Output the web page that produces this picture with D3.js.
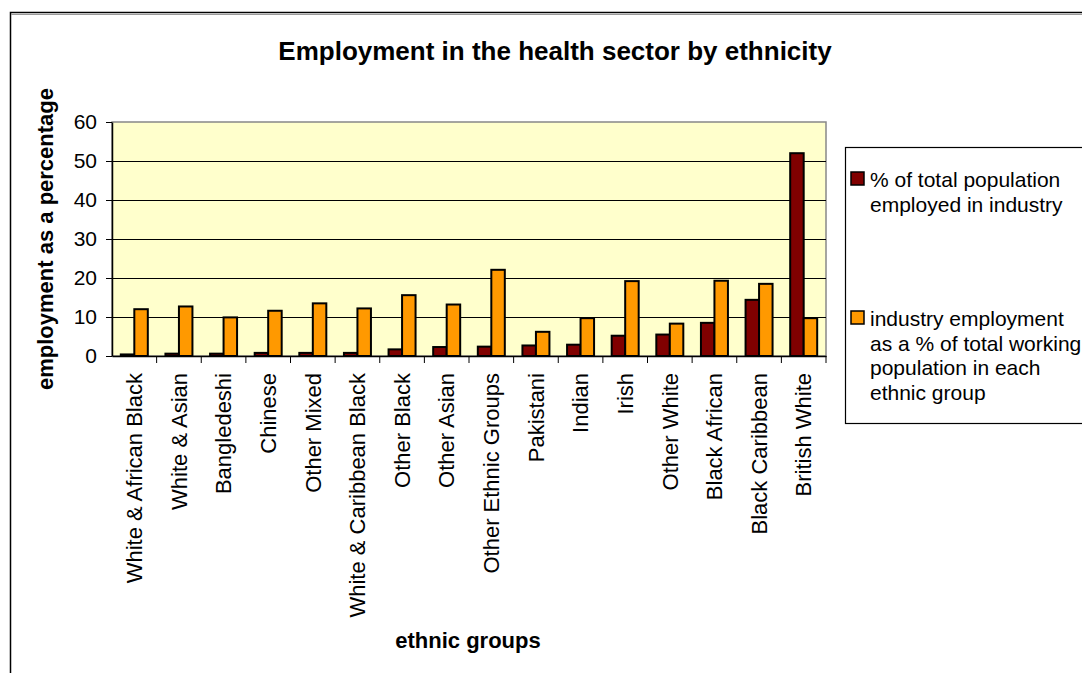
<!DOCTYPE html>
<html>
<head>
<meta charset="utf-8">
<script src="https://cdn.jsdelivr.net/npm/d3@7"></script>
<style>
  body { margin: 0; background: #fff; }
  text { font-family: "Liberation Sans", Arial, sans-serif; fill: #000; }
</style>
</head>
<body>
<svg id="chart" width="1082" height="673"></svg>
<script>
// data
var groups = ["White & African Black", "White & Asian", "Bangledeshi", "Chinese", "Other Mixed",
    "White & Caribbean Black", "Other Black", "Other Asian", "Other Ethnic Groups", "Pakistani",
    "Indian", "Irish", "Other White", "Black African", "Black Caribbean", "British White"];
var popShare = [0.4, 0.6, 0.6, 0.8, 0.8, 0.8, 1.7, 2.3, 2.4, 2.7, 2.9, 5.2, 5.5, 8.5, 14.4, 52.0];
var industryShare = [12.0, 12.7, 9.9, 11.6, 13.5, 12.2, 15.6, 13.2, 22.1, 6.2, 9.7, 19.2, 8.3, 19.3, 18.5, 9.7];
var yTicks = [0, 10, 20, 30, 40, 50, 60];
var seriesNames = [
    ["% of total population", "employed in industry"],
    ["industry employment", "as a % of total working", "population in each", "ethnic group"]
];
var colors = ["#800000", "#FF9900"];

var svg = d3.select("#chart");
var plotL = 112, plotT = 122, plotR = 826, plotB = 356;
var fontFam = "Liberation Sans, Arial, sans-serif";

// outer chart frame (runs off the right and bottom edges)
svg.append("rect")
    .attr("x", 10.5).attr("y", 12.5)
    .attr("width", 1100).attr("height", 700)
    .attr("fill", "none").attr("stroke", "#000").attr("stroke-width", 1.5)
svg.append("line")
    .attr("x1", 11).attr("x2", 1082).attr("y1", 14.5).attr("y2", 14.5)
    .attr("stroke", "#999").attr("stroke-width", 1)

var x = d3.scaleBand().domain(groups).range([plotL, plotR]).padding(0);
var inner = d3.scaleBand().domain([0, 1]).range([0, 27]);
var y = d3.scaleLinear().domain([0, 60]).range([plotB, plotT]);

// plot area
svg.append("rect")
    .attr("x", plotL).attr("y", plotT)
    .attr("width", plotR - plotL).attr("height", plotB - plotT)
    .attr("fill", "#FFFFCC").attr("stroke", "#888").attr("stroke-width", 1.5)

// gridlines
svg.append("g").selectAll("line")
    .data(yTicks.filter(function(d) { return d > 0 && d < 60; }))
    .join("line")
    .attr("x1", plotL).attr("x2", plotR)
    .attr("y1", function(d) { return Math.round(y(d)) + 0.5; })
    .attr("y2", function(d) { return Math.round(y(d)) + 0.5; })
    .attr("stroke", "#000").attr("stroke-width", 1)

// bars
var series = [popShare, industryShare];
var barG = svg.append("g");
series.forEach(function(vals, s) {
    barG.selectAll(".bar" + s)
        .data(vals)
        .join("rect")
        .attr("class", "bar" + s)
        .attr("x", function(d, i) { return x(groups[i]) + (x.bandwidth() - 27) / 2 + inner(s); })
        .attr("y", function(d) { return y(d); })
        .attr("width", inner.bandwidth())
        .attr("height", function(d) { return plotB - y(d); })
        .attr("fill", colors[s])
        .attr("stroke", "#000").attr("stroke-width", 2)
});

// y axis
var yAxis = svg.append("g")
    .attr("transform", "translate(" + plotL + ",0)")
    .call(d3.axisLeft(y).tickValues(yTicks).tickSize(6).tickPadding(9).tickSizeOuter(0));
yAxis.select(".domain").attr("stroke", "#000").attr("stroke-width", 1.5);
yAxis.selectAll(".tick line").attr("stroke", "#000");
yAxis.selectAll("text").attr("font-size", 21).attr("font-family", fontFam);

// x axis
var xAxis = svg.append("g")
    .attr("transform", "translate(0," + plotB + ")")
    .call(d3.axisBottom(x).tickSize(0).tickSizeOuter(0));
xAxis.select(".domain").attr("stroke", "#000").attr("stroke-width", 1.5);
xAxis.selectAll("text")
    .attr("font-size", 22).attr("font-family", fontFam)
    .attr("transform", "rotate(-90)")
    .attr("text-anchor", "end")
    .attr("x", -17).attr("y", 0).attr("dy", "0.35em");
// tick marks between categories
svg.append("g").selectAll("line")
    .data(groups)
    .join("line")
    .attr("x1", function(d) { return x(d) + x.bandwidth(); })
    .attr("x2", function(d) { return x(d) + x.bandwidth(); })
    .attr("y1", plotB).attr("y2", plotB + 7)
    .attr("stroke", "#000")

// titles
svg.append("text")
    .attr("x", 555).attr("y", 60)
    .attr("text-anchor", "middle")
    .attr("font-size", 26).attr("font-weight", "bold")
    .text("Employment in the health sector by ethnicity")
svg.append("text")
    .attr("transform", "translate(53,239) rotate(-90)")
    .attr("text-anchor", "middle")
    .attr("font-size", 22).attr("font-weight", "bold")
    .text("employment as a percentage")
svg.append("text")
    .attr("x", 468).attr("y", 648)
    .attr("text-anchor", "middle")
    .attr("font-size", 22).attr("font-weight", "bold")
    .text("ethnic groups")

// legend
var leg = svg.append("g");
leg.append("rect")
    .attr("x", 845.5).attr("y", 147.5)
    .attr("width", 300).attr("height", 276)
    .attr("fill", "#fff").attr("stroke", "#000").attr("stroke-width", 1.2)
var legY = [172, 311];
seriesNames.forEach(function(lines, s) {
    leg.append("rect")
        .attr("x", 851).attr("y", legY[s])
        .attr("width", 13).attr("height", 13)
        .attr("fill", colors[s]).attr("stroke", "#000").attr("stroke-width", 1.5)
    var t = leg.append("text")
        .attr("x", 870).attr("y", legY[s] + 15)
        .attr("font-size", 21)
    lines.forEach(function(l, k) {
        t.append("tspan").attr("x", 870).attr("dy", k === 0 ? 0 : 24.5).text(l);
    });
});
</script>
</body>
</html>
